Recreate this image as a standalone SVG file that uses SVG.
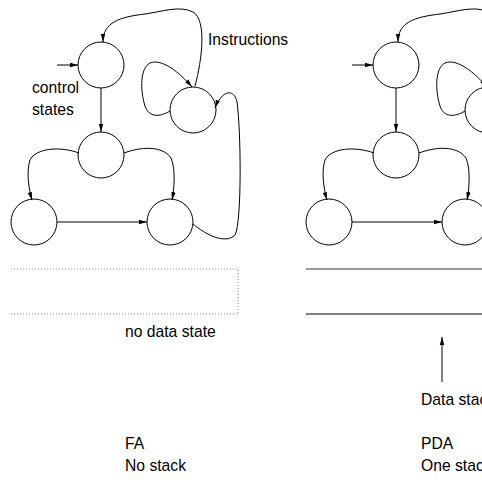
<svg xmlns="http://www.w3.org/2000/svg" width="482" height="483" viewBox="0 0 482 483">
  <style>
    .st { fill: none; stroke: #000; stroke-width: 1; }
    .edge { fill: none; stroke: #000; stroke-width: 1; marker-end: url(#arr); }
    .lbl { font-family: "Liberation Sans", Arial, Helvetica, sans-serif; font-size: 15.7px; fill: #000; }
  </style>
  <defs>
    <marker id="arr" markerWidth="9" markerHeight="6" refX="8" refY="3" orient="auto" markerUnits="userSpaceOnUse">
      <path d="M0,0.8 L8,3 L0,5.2 Z" fill="#000"/>
    </marker>
  </defs>

  <rect width="482" height="483" fill="#fff"/>

  <!-- FA: control states -->
  <g id="fa">
    <g id="fa-q0"><circle class="st" cx="101" cy="65" r="23"/></g>
    <g id="fa-q1"><circle class="st" cx="101" cy="155" r="23"/></g>
    <g id="fa-q2"><circle class="st" cx="34" cy="222" r="23"/></g>
    <g id="fa-q3"><circle class="st" cx="170" cy="222" r="23"/></g>
    <g id="fa-q4"><circle class="st" cx="193" cy="110" r="23"/></g>
    <g id="fa-edges">
      <path class="edge" d="M57,65 L78,65"/>
      <path class="edge" d="M101,88 L101,132"/>
      <path class="edge" d="M79,153 C60,146 36,148 30,160 C26,172 29,190 32,200"/>
      <path class="edge" d="M124,153 C140,147 162,145 171,158 C176,170 174,190 172,200"/>
      <path class="edge" d="M57,222 L147,222"/>
      <path class="edge" d="M170,111 C160,117 149,118 145,106 C140,90 140,68 150,63 C162,58 180,73 192,87"/>
      <path class="edge" d="M195,86 C202,60 207,20 193,12 C180,5 160,12 145,14 C120,17 103,22 103,42"/>
      <path class="edge" d="M193,224 C205,234 225,245 235,235 C242,222 241,130 237,102 C234,88 222,90 215,108"/>
    </g>
    <text class="lbl" x="208" y="45">Instructions</text>
    <text class="lbl" x="32" y="93">control</text>
    <text class="lbl" x="32" y="115">states</text>
    <!-- empty data store -->
    <path d="M11,269 H238 V314 H11" fill="none" stroke="#888" stroke-width="1" stroke-dasharray="1,2"/>
    <text class="lbl" x="125" y="337">no data state</text>
    <text class="lbl" x="125" y="449">FA</text>
    <text class="lbl" x="125" y="471">No stack</text>
  </g>

  <!-- PDA: same control states, plus a stack -->
  <g id="pda">
    <g transform="translate(295,0)">
      <g id="pda-q0"><circle class="st" cx="101" cy="65" r="23"/></g>
      <g id="pda-q1"><circle class="st" cx="101" cy="155" r="23"/></g>
      <g id="pda-q2"><circle class="st" cx="34" cy="222" r="23"/></g>
      <g id="pda-q3"><circle class="st" cx="170" cy="222" r="23"/></g>
      <g id="pda-q4"><circle class="st" cx="193" cy="110" r="23"/></g>
      <g id="pda-edges">
        <path class="edge" d="M57,65 L78,65"/>
        <path class="edge" d="M101,88 L101,132"/>
        <path class="edge" d="M79,153 C60,146 36,148 30,160 C26,172 29,190 32,200"/>
        <path class="edge" d="M124,153 C140,147 162,145 171,158 C176,170 174,190 172,200"/>
        <path class="edge" d="M57,222 L147,222"/>
        <path class="edge" d="M170,111 C160,117 149,118 145,106 C140,90 140,68 150,63 C162,58 180,73 192,87"/>
        <path class="edge" d="M195,86 C202,60 207,20 193,12 C180,5 160,12 145,14 C120,17 103,22 103,42"/>
      </g>
    </g>
    <!-- stack -->
    <line x1="306" y1="269" x2="482" y2="269" stroke="#777" stroke-width="1.5"/>
    <line x1="306" y1="314" x2="482" y2="314" stroke="#000" stroke-width="1"/>
    <path class="edge" d="M442,382 L442,337"/>
    <text class="lbl" x="421" y="405">Data stack</text>
    <text class="lbl" x="421" y="449">PDA</text>
    <text class="lbl" x="421" y="471">One stack</text>
  </g>
</svg>
